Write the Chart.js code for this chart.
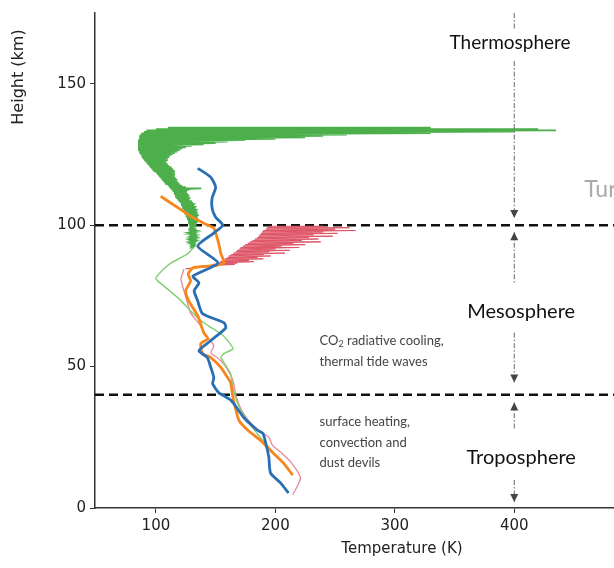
<!DOCTYPE html>
<html>
<head>
<meta charset="utf-8">
<script src="https://cdn.jsdelivr.net/npm/chart.js@4.4.1/dist/chart.umd.min.js"></script>
<style>
    html, body { margin: 0; padding: 0; background: #fff; }
</style>
</head>
<body>
<canvas id="perfil-grafica" width="614" height="568"></canvas>
<script>
// ejes
const tempTicks = [100, 200, 300, 400];
const heightTicks = [0, 50, 100, 150];
const tempMin = 49, tempMax = 483.5;
const heightMin = 0, heightMax = 175;
const boundaries = [100, 40];

// perfil azul
const blueHeight = [120.1, 116.9, 113.4, 109.5, 106.0, 102.8, 100.0, 97.2, 92.6, 86.6, 82.0, 79.6, 76.8, 73.2, 68.7, 65.5, 63.7, 59.2, 55.6, 53.2, 49.6, 46.1, 44.0, 40.8, 38.0, 32.0, 27.5, 26.4, 22.9, 18.0, 12.3, 8.8, 5.3];
const blueTemp = [135, 146, 150, 147, 147, 150, 156, 148.5, 135, 152, 131, 136, 132, 135, 139, 157, 158.5, 146, 136, 143, 146, 148.5, 147.5, 152.5, 163, 173.5, 185, 189.5, 192, 194.5, 196, 204.5, 211];

// perfil naranja
const orangeHeight = [110.2, 106.0, 103.2, 100.7, 98.9, 94.4, 89.8, 86.6, 85.6, 84.9, 82.7, 80.3, 76.8, 73.2, 68.0, 62.0, 59.9, 58.1, 54.6, 53.2, 49.6, 46.1, 44.4, 39.1, 31.0, 27.5, 23.9, 19.7, 15.8, 11.6];
const orangeTemp = [104, 119, 129, 140, 148.5, 152, 154.5, 157, 146, 131, 127, 129, 125, 127.5, 135, 140, 143.5, 137.5, 139, 146, 154.5, 160, 162.5, 164.5, 169.5, 177, 187.5, 197.5, 207, 214.5];

// perfil verde claro (parte baja)
const lightHeight = [91.9, 89.8, 86.6, 84.5, 81.3, 80.3, 74.3, 69.7, 65.5, 61.6, 59.2, 56.3, 54.6, 53.2, 47.5, 41.5, 34.5, 29.2, 23.9, 18.7, 14.1];
const lightTemp = [131, 126.5, 112.5, 106.5, 100, 101.5, 118.5, 129, 140, 154.5, 160, 164.5, 157, 154.5, 162.5, 165, 171, 179.5, 189.5, 200.5, 210.5];

// perfil rosa (parte baja del rojo)
const pinkHeight = [84.5, 81.0, 76.8, 73.2, 69.0, 64.4, 60.9, 57.4, 54.9, 52.8, 49.3, 45.1, 39.8, 35.2, 31.0, 27.5, 25.0, 22.2, 19.7, 16.2, 10.6, 4.6];
const pinkTemp = [123.5, 121, 123.5, 126, 129, 137.5, 142, 148.5, 146, 152.5, 159.5, 164.5, 167, 171, 177.5, 186, 194.5, 197.5, 204.5, 213, 221, 214.5];

// termosfera verde: borde izquierdo y picos a la derecha
const greenHeight = [134.5, 134.0, 133.5, 133.0, 132.5, 132.0, 131.5, 131.0, 130.5, 130.0, 129.5, 129.0, 128.5, 128.0, 127.5, 127.0, 126.5, 126.0, 125.5, 125.0, 124.5, 124.0, 123.5, 123.0, 122.5, 122.0, 121.5, 121.0, 120.5, 120.0, 119.5, 119.0, 118.5, 118.0, 117.5, 117.0, 116.5, 116.0, 115.5, 115.0, 114.5, 114.0, 113.5, 113.0, 112.5, 112.0, 111.5, 111.0, 110.5, 110.0, 109.5, 109.0, 108.5, 108.0, 107.5, 107.0, 106.5, 106.0, 105.5, 105.0, 104.5, 104.0, 103.5, 103.0, 102.5, 102.0, 101.5, 101.0, 100.5, 100.0, 99.5, 99.0, 98.5, 98.0, 97.5, 97.0, 96.5, 96.0, 95.5, 95.0, 94.5, 94.0, 93.5, 93.0, 92.5, 92.0];
const greenLeft = [110, 100, 92, 90, 88, 87, 86, 86, 86, 85, 85, 85, 85, 85, 85, 85, 85, 86, 86, 87, 88, 88, 89, 90, 91, 92, 93, 94, 95, 96, 97, 98, 100, 101, 102, 103, 104, 105, 106, 107, 108, 110, 111, 112, 113, 114, 115, 115, 116, 116, 117, 118, 119, 120, 121, 121, 122, 122, 123, 123, 124, 124, 125, 125, 126, 126, 127, 127, 127, 128, 128, 128, 127, 128, 128, 128, 128, 129, 129, 129, 129, 129, 129, 130, 130, 130];
const greenRight = [330, 420, 435, 400, 330, 260, 240, 225, 200, 175, 160, 150, 140, 130, 125, 122, 120, 118, 116, 114, 112, 111, 110, 110, 109, 109, 110, 111, 113, 114, 115, 116, 116, 116, 116, 116, 117, 118, 118, 119, 120, 122, 125, 138, 128, 126, 126, 127, 128, 128, 129, 128, 130, 131, 133, 132, 134, 133, 135, 134, 135, 135, 136, 135, 135, 136, 135, 135, 134, 134, 134, 133, 134, 133, 133, 134, 133, 133, 133, 133, 133, 132, 132, 132, 132, 132];

// rojo ruidoso por encima de 85 km
const redHeight = [99.6, 99.1, 98.6, 98.1, 97.6, 97.1, 96.6, 96.1, 95.6, 95.1, 94.6, 94.1, 93.6, 93.1, 92.6, 92.1, 91.6, 91.1, 90.6, 90.1, 89.6, 89.1, 88.6, 88.1, 87.6, 87.1, 86.6, 86.1, 85.6, 85.1, 84.6];
const redLeft = [195, 193, 192, 190, 189, 188, 187, 186, 185, 183, 181, 179, 177, 175, 173, 171, 170, 168, 167, 165, 163, 161, 160, 158, 156, 154, 151, 147, 140, 133, 125];
const redRight = [240, 262, 250, 267, 240, 252, 232, 248, 228, 236, 222, 238, 215, 225, 205, 220, 200, 212, 195, 208, 190, 196, 185, 190, 178, 182, 168, 166, 152, 140, 128];

function perfil(alturas, temps) {
    return alturas.map((h, i) => ({ x: temps[i], y: h }));
}

function banda(alturas, izq, der) {
    const puntos = [];
    alturas.forEach((h, i) => {
        puntos.push({ x: izq[i], y: h });
        puntos.push({ x: der[i], y: h });
    });
    return puntos;
}

const capas = {
    id: 'capas',
    afterDatasetsDraw(chart) {
        const { ctx, scales: { x, y } } = chart;
        const px = x.getPixelForValue(400);
        ctx.save();

        // guia vertical punto-raya en 400 K
        const tramos = [[175, 169], [158, 102.5], [97.5, 79.2], [62, 44.4], [37.3, 27.5], [9.9, 2.1]];
        ctx.strokeStyle = '#666';
        ctx.lineWidth = 1;
        ctx.setLineDash([5, 2, 1.5, 2]);
        tramos.forEach(([a, b]) => {
            ctx.beginPath();
            ctx.moveTo(px, y.getPixelForValue(a));
            ctx.lineTo(px, y.getPixelForValue(b));
            ctx.stroke();
        });
        ctx.setLineDash([]);

        // puntas de flecha (1 = abajo, -1 = arriba)
        const flechas = [[102.5, 1], [97.5, -1], [44.4, 1], [37.3, -1], [2.1, 1]];
        ctx.fillStyle = '#444';
        flechas.forEach(([h, dir]) => {
            const py = y.getPixelForValue(h);
            ctx.beginPath();
            ctx.moveTo(px, py);
            ctx.lineTo(px - 4, py - dir * 8);
            ctx.lineTo(px + 4, py - dir * 8);
            ctx.closePath();
            ctx.fill();
        });

        // nombres de capas
        ctx.textBaseline = 'middle';
        ctx.textAlign = 'center';
        ctx.fillStyle = '#111';
        ctx.font = '19px Lato';
        ctx.fillText('Thermosphere', x.getPixelForValue(396.5), y.getPixelForValue(164.5));
        ctx.font = '20px Lato';
        ctx.fillText('Mesosphere', x.getPixelForValue(405.8), y.getPixelForValue(69.5));
        ctx.fillText('Troposphere', x.getPixelForValue(405.8), y.getPixelForValue(18));

        ctx.textAlign = 'left';
        ctx.fillStyle = '#aaa';
        ctx.font = '23px Lato';
        ctx.fillText('Turbopause', x.getPixelForValue(458.5), y.getPixelForValue(112.7));

        // notas
        ctx.fillStyle = '#444';
        ctx.font = '13px Lato';
        const tx = x.getPixelForValue(237);
        let ty = y.getPixelForValue(59);
        ctx.fillText('CO', tx, ty);
        let w = ctx.measureText('CO').width;
        ctx.font = '9px Lato';
        ctx.fillText('2', tx + w, ty + 3);
        w += ctx.measureText('2').width;
        ctx.font = '13px Lato';
        ctx.fillText(' radiative cooling,', tx + w, ty);
        ctx.fillText('thermal tide waves', tx, y.getPixelForValue(51.6));
        ctx.fillText('surface heating,', tx, y.getPixelForValue(30.5));
        ctx.fillText('convection and', tx, y.getPixelForValue(23.2));
        ctx.fillText('dust devils', tx, y.getPixelForValue(16));

        // titulos de ejes
        ctx.fillStyle = '#222';
        ctx.font = '15px "DejaVu Sans"';
        ctx.textAlign = 'center';
        ctx.fillText('Temperature (K)', 402, 549);
        ctx.font = '16px "DejaVu Sans"';
        ctx.translate(19, 77);
        ctx.rotate(-Math.PI / 2);
        ctx.fillText('Height (km)', 0, 0);
        ctx.restore();
    }
};

const ctx = document.querySelector('#perfil-grafica').getContext('2d');

new Chart(ctx, {
    type: 'scatter',
    data: {
        datasets: [
            {
                data: perfil(blueHeight, blueTemp),
                borderColor: '#2a6fb5',
                borderWidth: 2.8,
                tension: 0.2
            },
            {
                data: perfil(orangeHeight, orangeTemp),
                borderColor: '#f7861c',
                borderWidth: 2.8,
                tension: 0.2
            },
            {
                data: perfil(lightHeight, lightTemp),
                borderColor: '#86cf78',
                borderWidth: 1.5,
                tension: 0.2
            },
            {
                data: perfil(pinkHeight, pinkTemp),
                borderColor: '#e8879a',
                borderWidth: 1.3,
                tension: 0.2
            },
            {
                data: banda(redHeight, redLeft, redRight),
                borderColor: '#dd5566',
                borderWidth: 1
            },
            {
                data: banda(greenHeight, greenLeft, greenRight),
                borderColor: '#4caf4c',
                borderWidth: 1.6
            },
            ...boundaries.map(h => ({
                data: [{ x: tempMin, y: h }, { x: tempMax, y: h }],
                borderColor: '#111',
                borderWidth: 2.5,
                borderDash: [9, 5]
            }))
        ]
    },
    options: {
        responsive: false,
        animation: false,
        showLine: true,
        elements: { point: { radius: 0, hoverRadius: 0 } },
        layout: { padding: { top: 10, right: 0, bottom: 0, left: 0 } },
        scales: {
            x: {
                type: 'linear',
                min: tempMin,
                max: tempMax,
                afterFit: scale => { scale.height = 60; },
                afterBuildTicks: scale => { scale.ticks = tempTicks.map(v => ({ value: v })); },
                ticks: { color: '#222', font: { family: 'DejaVu Sans', size: 15 }, padding: 4, maxRotation: 0 },
                grid: { drawOnChartArea: false, drawTicks: true, tickLength: 5, color: '#333' },
                border: { display: true, color: '#333', width: 1.5 }
            },
            y: {
                type: 'linear',
                min: heightMin,
                max: heightMax,
                afterFit: scale => { scale.width = 95; },
                afterBuildTicks: scale => { scale.ticks = heightTicks.map(v => ({ value: v })); },
                ticks: { color: '#222', font: { family: 'DejaVu Sans', size: 15 }, padding: 4 },
                grid: { drawOnChartArea: false, drawTicks: true, tickLength: 5, color: '#333' },
                border: { display: true, color: '#333', width: 1.5 }
            }
        },
        plugins: {
            legend: { display: false },
            tooltip: { enabled: false }
        }
    },
    plugins: [capas]
});
</script>
</body>
</html>
